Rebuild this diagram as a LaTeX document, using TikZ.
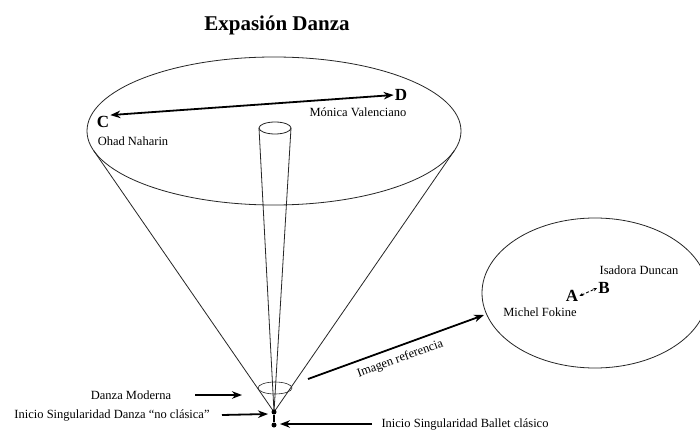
\documentclass[tikz,border=0pt]{standalone}
\usepackage{fontspec}
\setmainfont{Liberation Serif}
\usetikzlibrary{arrows.meta}
\begin{document}
\begin{tikzpicture}[x=1pt,y=-1pt,
  outline/.style={line width=0.8pt, black!85},
  pointer/.style={line width=1.8pt, -{Stealth[length=10pt,width=7.5pt]}},
  lbl/.style={font=\fontsize{12.5}{14}\selectfont, inner sep=1pt},
  letter/.style={font=\fontsize{17}{19}\selectfont\bfseries, inner sep=1pt},
  dot/.style={circle, fill=black, inner sep=0pt, minimum size=5pt}]
\useasboundingbox (0,0) rectangle (700,430);
\fill[white] (0,0) rectangle (700,430);

% title
\node[font=\fontsize{21}{24}\selectfont\bfseries] (title) at (277,25) {Expasión Danza};

% big cone
\draw[outline] (274,131) ellipse [x radius=187pt, y radius=74pt];
\coordinate (apex) at (274,412);
\coordinate (tl) at (93.6,150.5);
\coordinate (tr) at (454.4,150.5);
\draw[outline] (tl) -- (apex) -- (tr);

% inner thin cone
\draw[outline] (275,128) ellipse [x radius=16pt, y radius=6pt];
\coordinate (il) at (259,128);
\coordinate (ir) at (291,128);
\draw[outline] (il) -- (apex) -- (ir);

% small ellipse near apex
\draw[outline, line width=0.6pt] (275,388) ellipse [x radius=17pt, y radius=6pt];

% dots
\node[dot] (d1) at (274,412) {};
\node[dot] (d2) at (274,425) {};
\draw[line width=1.5pt] (d1) -- (d2);

% C - D
\node[letter] (C) at (103,122) {C};
\node[letter] (D) at (401,95) {D};
\draw[line width=1.8pt, {Stealth[length=10pt,width=7.5pt]}-{Stealth[length=10pt,width=7.5pt]}] (C.north east) -- (D.west);
\node[lbl] (ohad) at (133,141) {Ohad Naharin};
\node[lbl] (monica) at (358,112) {Mónica Valenciano};

% right ellipse
\draw[outline] (595,293) ellipse [x radius=113pt, y radius=75pt];
\node[letter] (A) at (572,296) {A};
\node[letter] (B) at (604,288) {B};
\draw[line width=0.9pt, densely dashed, {Stealth[length=4pt,width=3.5pt]}-{Stealth[length=4pt,width=3.5pt]}] (A.east) -- (B.west);
\node[lbl] (isadora) at (639,270) {Isadora Duncan};
\node[lbl] (michel) at (540,312) {Michel Fokine};

% imagen referencia
\coordinate (irtail) at (308,379);
\coordinate (irtip) at (484,315);
\draw[pointer] (irtail) -- (irtip) node[midway, below=5pt, sloped, lbl] (imgref) {Imagen referencia};

% left labels
\node[lbl, anchor=center] (dm) at (131,395) {Danza Moderna};
\coordinate (dmtail) at (195,395);
\coordinate (dmtip) at (242,395);
\draw[pointer] (dmtail) -- (dmtip);

\node[lbl] (noclas) at (112,415) {Inicio Singularidad Danza “no clásica”};
\coordinate (nctail) at (222,415);
\coordinate (nctip) at (268,414);
\draw[pointer] (nctail) -- (nctip);

\node[lbl] (ballet) at (465,424) {Inicio Singularidad Ballet clásico};
\coordinate (bttail) at (372,424);
\coordinate (bttip) at (280,424);
\draw[pointer] (bttail) -- (bttip);
\end{tikzpicture}
\end{document}
